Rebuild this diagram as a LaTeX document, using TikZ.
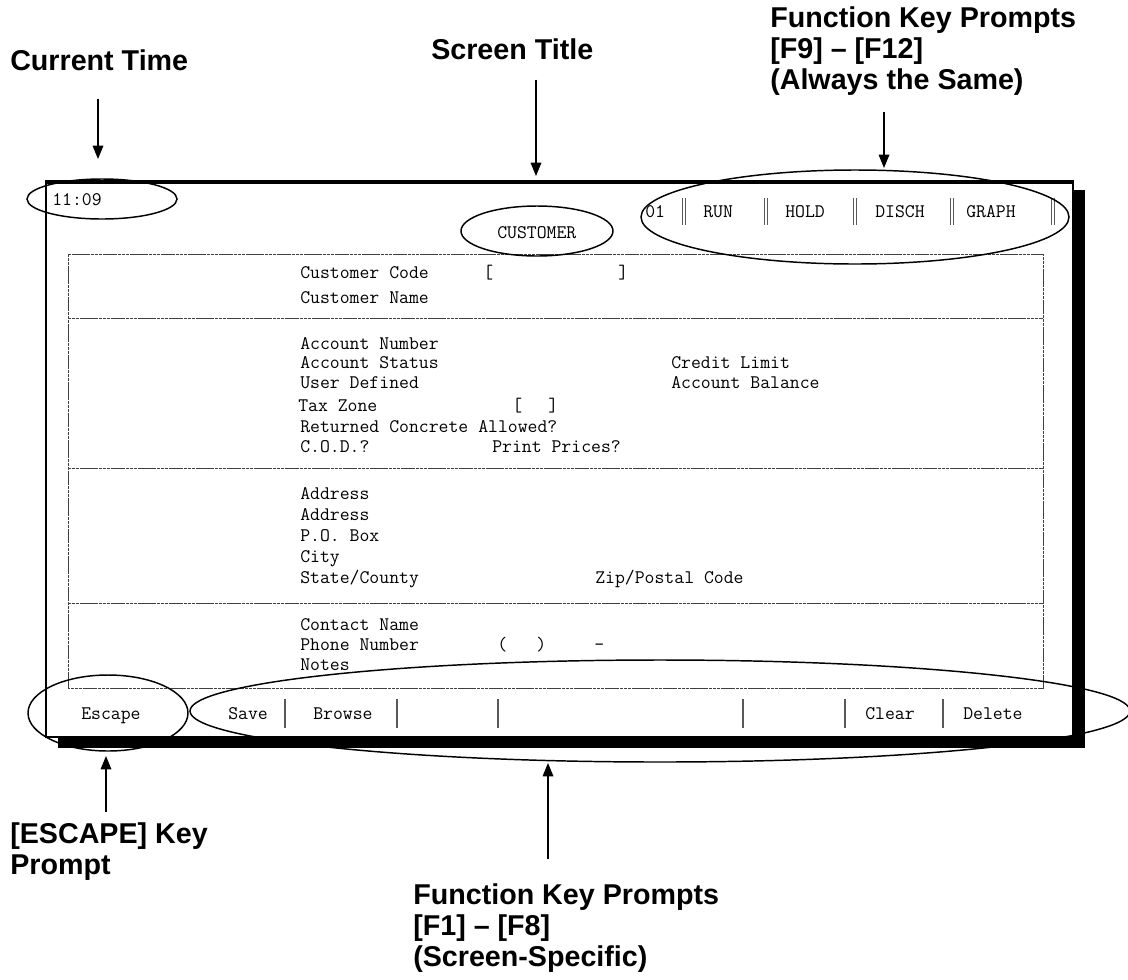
\documentclass[tikz,border=0pt]{standalone}
\usepackage{fontspec}
\setmainfont{Liberation Sans}
\newfontfamily\lblfont{Liberation Sans}
\usetikzlibrary{arrows.meta,positioning}
\tikzset{
  lbl/.style={font=\lblfont\bfseries\fontsize{21.5}{23.6}\selectfont, align=left, inner sep=0pt, anchor=north west},
  scr/.style={font=\ttfamily\fontsize{14.4}{16}\selectfont, anchor=west, inner sep=0pt, text height=9pt, text depth=0pt},
  ring/.style={line width=1.1pt},
  pointer/.style={line width=0.9pt, -{Triangle[length=10pt,width=8pt]}},
  panel/.style={draw=black!75, line width=0.6pt, dash pattern=on 2.5pt off 0.4pt},
  keybar/.style={draw=black!65, line width=0.9pt},
}
\begin{document}
\begin{tikzpicture}[x=0.75pt,y=-0.75pt]
	\useasboundingbox (0,0) rectangle (1128,979);
	% screen frame with shadow
	\fill (58,190) rectangle (1085,748);
	\filldraw[fill=white, line width=1.4pt] (46,182) rectangle (1073,737);
	\draw[line width=2.4pt] (45,182) -- (1074,182);
	% panels
	\draw[panel] (68,254) rectangle (1043,688);
	\draw[panel] (68,318) -- (1043,318);
	\draw[panel] (68,468) -- (1043,468);
	\draw[panel] (68,603) -- (1043,603);
	% top line of the screen
	\node[scr] (clock) at (52,199) {11:09};
	\node[scr] (title) at (497,232) {CUSTOMER};
	\node[scr] (k01) at (645,211) {01};
	\node[scr] (krun) at (703,211) {RUN};
	\node[scr] (khold) at (785,211) {HOLD};
	\node[scr] (kdisch) at (875,211) {DISCH};
	\node[scr] (kgraph) at (966,211) {GRAPH};
	\foreach \x in {684,766,855,952,1053}
		\draw[keybar, line width=0.7pt] (\x-1.8,198) -- (\x-1.8,225) (\x+1.8,198) -- (\x+1.8,225);
	% customer
	\node[scr] (ccode) at (300,272) {Customer Code};
	\node[scr] at (483,272) {[};
	\node[scr] at (618,272) {]};
	\node[scr] (cname) at (300,297) {Customer Name};
	% account
	\node[scr] (accno) at (300,343) {Account Number};
	\node[scr] (accstat) at (300,362) {Account Status};
	\node[scr] (credit) at (671,362) {Credit Limit};
	\node[scr] (user) at (300,382) {User Defined};
	\node[scr] (balance) at (671,382) {Account Balance};
	\node[scr] (tax) at (298,405) {Tax Zone};
	\node[scr] at (512,405) {[};
	\node[scr] at (548,405) {]};
	\node[scr] (returned) at (300,426) {Returned Concrete Allowed?};
	\node[scr] (cod) at (300,446) {C.O.D.?};
	\node[scr] (prices) at (492,446) {Print Prices?};
	% address
	\node[scr] (addr1) at (300,493) {Address};
	\node[scr] (addr2) at (300,514) {Address};
	\node[scr] (pobox) at (300,535) {P.O. Box};
	\node[scr] (city) at (300,556) {City};
	\node[scr] (state) at (300,577) {State/County};
	\node[scr] (zip) at (595,577) {Zip/Postal Code};
	% contact
	\node[scr] (contact) at (300,624) {Contact Name};
	\node[scr] (phone) at (300,644) {Phone Number};
	\node[scr] at (497,644) {(};
	\node[scr] at (536,644) {)};
	\node[scr] at (594,644) {-};
	\node[scr] (notes) at (300,664) {Notes};
	% bottom line of the screen
	\node[scr] (esc) at (81,713) {Escape};
	\node[scr] (save) at (228,713) {Save};
	\node[scr] (browse) at (313,713) {Browse};
	\node[scr] (clear) at (865,713) {Clear};
	\node[scr] (delete) at (963,713) {Delete};
	\foreach \x in {285,397,498,743,845,943}
		\draw[keybar] (\x,699) -- (\x,728);
	% rings
	\draw[ring] (102,199) ellipse (75 and 20);
	\draw[ring] (537,231) ellipse (76 and 25);
	\draw[ring] (855,217) ellipse (214 and 47);
	\draw[ring] (108,713) ellipse (80 and 38);
	\draw[ring] (660,711) ellipse (470 and 51);
	% callouts
	\node[lbl] (lbltime) at (10,49) {Current Time};
	\node[lbl] (lbltitle) at (431,38) {Screen Title};
	\node[lbl] (lblupper) at (770,6) {Function Key Prompts\\{}[F9] \textendash{} [F12]\\(Always the Same)};
	\node[lbl] (lblesc) at (10,822) {[ESCAPE] Key\\Prompt};
	\node[lbl] (lbllower) at (413,883) {Function Key Prompts\\{}[F1] \textendash{} [F8]\\(Screen-Specific)};
	\coordinate (tiptime) at (98,159);
	\coordinate (tiptitle) at (536,176);
	\coordinate (tipupper) at (884,168);
	\coordinate (tipesc) at (106,756);
	\coordinate (tiplower) at (548,763);
	\draw[pointer] (lbltime.south -| tiptime) ++(0,28) -- (tiptime);
	\draw[pointer] (lbltitle.south -| tiptitle) ++(0,20) -- (tiptitle);
	\draw[pointer] (lblupper.south -| tipupper) ++(0,16) -- (tipupper);
	\draw[pointer] (lblesc.north -| tipesc) ++(0,-10) -- (tipesc);
	\draw[pointer] (lbllower.north -| tiplower) ++(0,-24) -- (tiplower);
\end{tikzpicture}
\end{document}
